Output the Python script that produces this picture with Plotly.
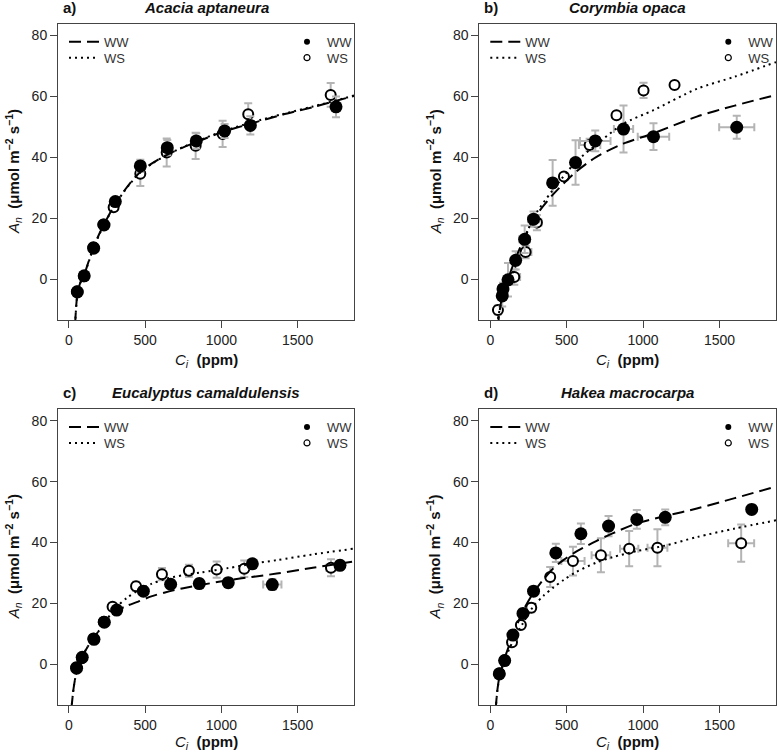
import plotly.graph_objects as go

# ---------------- data ----------------
# Panel a) Acacia aptaneura
a_ww_ci = [55, 100, 162, 230, 304, 468, 645, 835, 1021, 1190, 1752]
a_ww_an = [-4.2, 1.1, 10.2, 17.8, 25.5, 37.2, 43.2, 45.4, 48.7, 50.5, 56.6]
a_ww_an_se = [0.8, 0.8, 1.0, 1.0, 1.2, 2.0, 2.5, 2.5, 2.3, 3.0, 3.4]
a_ww_ci_se = [5, 5, 6, 8, 8, 10, 10, 12, 12, 15, 15]
a_ws_ci = [52, 98, 160, 225, 293, 468, 641, 831, 1008, 1176, 1717]
a_ws_an = [-4.0, 1.0, 10.5, 18.0, 23.6, 34.6, 41.6, 43.8, 47.7, 54.2, 60.5]
a_ws_an_se = [0.8, 0.8, 1.0, 1.0, 1.2, 4.0, 4.6, 4.3, 4.3, 3.6, 3.9]
a_ws_ci_se = [5, 5, 6, 8, 8, 10, 10, 12, 12, 15, 15]
a_fit_ci = [40, 55, 75, 100, 130, 160, 200, 230, 300, 400, 470, 550, 650, 750, 850, 1000, 1200, 1400, 1600, 1870]
a_fit_ww = [-15, -5, -1, 1.5, 6, 10.3, 15, 18, 24.5, 31.5, 35.3, 38.2, 41, 43.3, 45.3, 48.2, 51.2, 54, 56.5, 60.2]
a_fit_ws = [-15, -5.2, -1.2, 1.3, 5.8, 10, 14.8, 17.8, 24.3, 31.3, 35.1, 38.1, 41, 43.4, 45.5, 48.4, 51.5, 54.2, 56.7, 60.3]

# Panel b) Corymbia opaca
b_ww_ci = [78, 83, 116, 166, 225, 283, 408, 558, 687, 872, 1068, 1613]
b_ww_an = [-5.5, -3.2, -0.2, 6.2, 13.1, 19.7, 31.6, 38.3, 45.4, 49.3, 46.8, 49.9]
b_ww_an_se = [3.5, 2.0, 5.5, 3.0, 4.5, 2.5, 7.5, 7.3, 3.4, 7.7, 4.4, 3.8]
b_ww_ci_se = [20, 20, 25, 25, 35, 35, 20, 30, 100, 63, 103, 115]
b_ws_ci = [50, 157, 231, 305, 482, 650, 826, 1003, 1206]
b_ws_an = [-10.1, 0.7, 8.9, 18.6, 33.7, 44.1, 53.8, 62.0, 63.8]
b_ws_an_se = [1.5, 2.5, 2.0, 2.5, 1.0, 2.0, 1.0, 2.5, 1.0]
b_ws_ci_se = [15, 38, 38, 30, 10, 70, 10, 10, 10]
b_fit_ci = [50, 55, 78, 115, 166, 225, 280, 405, 560, 690, 870, 1068, 1352, 1600, 1870]
b_fit_ww = [-16, -13, -5.5, 0, 6.8, 13.8, 19.5, 27.5, 35.2, 40, 44.5, 47.9, 53.4, 57, 60.5]
b_fit_ws = [-13, -11.5, -6.5, -1.5, 4.5, 13, 20, 29, 38.5, 44, 51, 55.5, 62.5, 66.5, 71.3]

# Panel c) Eucalyptus camaldulensis
c_ww_ci = [50, 87, 164, 232, 313, 488, 667, 855, 1045, 1203, 1334, 1778]
c_ww_an = [-1.3, 2.3, 8.2, 13.8, 17.8, 24.0, 26.3, 26.5, 26.8, 33.0, 26.2, 32.5]
c_ww_an_se = [1.0, 1.0, 1.0, 1.0, 1.2, 1.2, 1.5, 1.5, 1.5, 1.5, 1.8, 1.5]
c_ww_ci_se = [5, 5, 8, 10, 10, 12, 12, 15, 15, 15, 60, 20]
c_ws_ci = [48, 85, 160, 228, 286, 440, 610, 787, 969, 1150, 1719]
c_ws_an = [-1.0, 2.0, 8.5, 14.0, 18.9, 25.6, 29.6, 30.7, 31.1, 31.4, 31.7]
c_ws_an_se = [1.0, 1.0, 1.0, 1.0, 1.0, 1.5, 2.0, 2.0, 2.7, 2.7, 2.8]
c_ws_ci_se = [5, 5, 8, 10, 10, 20, 20, 15, 15, 15, 30]
c_fit_ci = [15, 30, 45, 60, 87, 120, 164, 232, 302, 380, 455, 540, 630, 750, 870, 1045, 1200, 1363, 1600, 1870]
c_fit_ww = [-15, -8, -3.5, -0.5, 2.5, 5.5, 8.7, 13.5, 17.2, 19.2, 20.6, 22.3, 23.6, 25, 26.1, 27.6, 28.7, 29.8, 31.7, 33.8]
c_fit_ws = [-15, -8, -3.5, -0.5, 2.5, 5.5, 8.7, 13.5, 18.3, 21.8, 24.3, 26.4, 28.0, 29.3, 30.2, 31.6, 33.0, 34.2, 36.1, 38.0]

# Panel d) Hakea macrocarpa
d_ww_ci = [59, 94, 148, 214, 283, 429, 593, 774, 959, 1145, 1711]
d_ww_an = [-3.2, 1.2, 9.6, 16.7, 24.0, 36.6, 42.9, 45.4, 47.6, 48.3, 50.9]
d_ww_an_se = [1.0, 1.0, 1.5, 1.5, 1.5, 3.0, 3.4, 3.3, 3.1, 2.6, 1.5]
d_ww_ci_se = [5, 8, 10, 10, 12, 15, 15, 15, 20, 20, 20]
d_ws_ci = [59, 94, 142, 200, 268, 392, 541, 724, 909, 1094, 1642]
d_ws_an = [-3.0, 1.3, 7.2, 12.9, 18.6, 28.7, 33.9, 35.8, 38.0, 38.3, 39.8]
d_ws_an_se = [1.0, 1.0, 1.0, 1.0, 1.5, 3.3, 4.7, 5.6, 5.8, 6.1, 6.1]
d_ws_ci_se = [5, 8, 8, 10, 12, 25, 76, 61, 60, 65, 85]
d_fit_ci = [35, 45, 60, 94, 148, 214, 279, 350, 410, 480, 562, 693, 800, 959, 1145, 1352, 1600, 1870]
d_fit_ww = [-15, -9, -4, 2, 9.5, 17.5, 23.2, 28, 31.4, 34.3, 37, 40.5, 43, 46.3, 48.7, 51.2, 54.6, 58.4]
d_fit_ws = [-15, -9.2, -4.4, 1.3, 7.6, 13.5, 18.8, 22.6, 25.1, 27.7, 30.3, 33.4, 35.2, 37.2, 39.0, 41.8, 44.6, 47.3]

panel_labels = ["a)", "b)", "c)", "d)"]
species = ["Acacia aptaneura", "Corymbia opaca", "Eucalyptus camaldulensis", "Hakea macrocarpa"]
x_ticks = [0, 500, 1000, 1500]
y_ticks = [0, 20, 40, 60, 80]
x_range = [-72, 1870]
y_range = [-13.4, 83.8]

# ---------------- layout geometry ----------------
W, H = 777, 754
FONT = "Liberation Sans, Arial, sans-serif"
col_px = [(58, 354), (479.3, 776)]
row_px = [(24, 320), (409.3, 705)]
xtitle_gap = [40, 37]

def px(x):
    return x / W

def py(y):
    return 1 - y / H

panels = [
    dict(ww=(a_ww_ci, a_ww_an, a_ww_ci_se, a_ww_an_se), ws=(a_ws_ci, a_ws_an, a_ws_ci_se, a_ws_an_se),
         fit=(a_fit_ci, a_fit_ww, a_fit_ws), col=0, row=0),
    dict(ww=(b_ww_ci, b_ww_an, b_ww_ci_se, b_ww_an_se), ws=(b_ws_ci, b_ws_an, b_ws_ci_se, b_ws_an_se),
         fit=(b_fit_ci, b_fit_ww, b_fit_ws), col=1, row=0),
    dict(ww=(c_ww_ci, c_ww_an, c_ww_ci_se, c_ww_an_se), ws=(c_ws_ci, c_ws_an, c_ws_ci_se, c_ws_an_se),
         fit=(c_fit_ci, c_fit_ww, c_fit_ws), col=0, row=1),
    dict(ww=(d_ww_ci, d_ww_an, d_ww_ci_se, d_ww_an_se), ws=(d_ws_ci, d_ws_an, d_ws_ci_se, d_ws_an_se),
         fit=(d_fit_ci, d_fit_ww, d_fit_ws), col=1, row=1),
]

ERR = "#b4b4b4"
fig = go.Figure()
layout = dict(
    width=W, height=H, margin=dict(l=0, r=0, t=0, b=0, autoexpand=False),
    paper_bgcolor="white", plot_bgcolor="white",
    font=dict(family=FONT, color="#222"), showlegend=True,
    annotations=[],
)

legend_count = 0
for i, p in enumerate(panels):
    n = "" if i == 0 else str(i + 1)
    xa, ya = "x" + n, "y" + n
    x0, x1 = col_px[p["col"]]
    y0, y1 = row_px[p["row"]]
    axis_common = dict(showline=True, mirror=True, linecolor="#444", linewidth=1,
                       ticks="outside", ticklen=7, tickwidth=1, tickcolor="#444",
                       showgrid=False, zeroline=False, automargin=False,
                       tickfont=dict(size=14, family=FONT, color="#222"))
    layout["xaxis" + n] = dict(domain=[px(x0), px(x1)], range=x_range, tickvals=x_ticks,
                               anchor=ya, **axis_common)
    layout["yaxis" + n] = dict(domain=[py(y1), py(y0)], range=y_range, tickvals=y_ticks,
                               anchor=xa, **axis_common)

    # open circles (WS)
    ci, an, cise, anse = p["ws"]
    fig.add_trace(go.Scatter(x=ci, y=an, mode="markers", xaxis=xa, yaxis=ya, showlegend=False,
                             marker=dict(symbol="circle", size=10, color="white",
                                         line=dict(color="black", width=2)),
                             error_y=dict(type="data", array=anse, color=ERR, thickness=2, width=4),
                             error_x=dict(type="data", array=cise, color=ERR, thickness=2, width=4)))
    # filled circles (WW)
    ci, an, cise, anse = p["ww"]
    fig.add_trace(go.Scatter(x=ci, y=an, mode="markers", xaxis=xa, yaxis=ya, showlegend=False,
                             marker=dict(symbol="circle", size=13, color="black",
                                         line=dict(color="black", width=0)),
                             error_y=dict(type="data", array=anse, color=ERR, thickness=2, width=4),
                             error_x=dict(type="data", array=cise, color=ERR, thickness=2, width=4)))
    # fitted curves
    fci, fww, fws = p["fit"]
    fig.add_trace(go.Scatter(x=fci, y=fww, mode="lines", xaxis=xa, yaxis=ya, showlegend=False,
                             line=dict(color="black", width=2, dash="12px,6px", shape="spline", smoothing=0.8)))
    fig.add_trace(go.Scatter(x=fci, y=fws, mode="lines", xaxis=xa, yaxis=ya, showlegend=False,
                             line=dict(color="black", width=2, dash="2px,4px", shape="spline", smoothing=0.8)))

    # legends: one legend per entry for exact row placement
    entries = [
        ("WW", dict(mode="lines", line=dict(color="black", width=2, dash="12px,6px")), x0 + 6, y0 + 17.7),
        ("WS", dict(mode="lines", line=dict(color="black", width=2, dash="2px,4px")), x0 + 6, y0 + 33.7),
        ("WW", dict(mode="markers", marker=dict(symbol="circle", size=6, color="black")), x0 + 229, y0 + 17.7),
        ("WS", dict(mode="markers", marker=dict(symbol="circle-open", size=6, color="black",
                                                line=dict(width=1.2))), x0 + 229, y0 + 33.7),
    ]
    for name, style, lx, ly in entries:
        legend_count += 1
        lname = "legend" if legend_count == 1 else "legend" + str(legend_count)
        fig.add_trace(go.Scatter(x=[None], y=[None], name=name, legend=lname, showlegend=True,
                                 xaxis=xa, yaxis=ya, **style))
        layout[lname] = dict(x=px(lx), y=py(ly), xanchor="left", yanchor="middle",
                             bgcolor="rgba(0,0,0,0)", borderwidth=0,
                             font=dict(size=13, family=FONT, color="#333"))

    xc = (x0 + x1) / 2
    yc = (y0 + y1) / 2
    ann = layout["annotations"]
    # panel letter
    ann.append(dict(text="<b>" + panel_labels[i] + "</b>", x=px(x0 + 3), y=py(y0 - 17), xref="paper", yref="paper",
                    xanchor="left", yanchor="middle", showarrow=False,
                    font=dict(size=15, family=FONT, color="#111")))
    # species title
    ann.append(dict(text="<b><i>" + species[i] + "</i></b>", x=px(xc), y=py(y0 - 17), xref="paper", yref="paper",
                    xanchor="center", yanchor="middle", showarrow=False,
                    font=dict(size=15, family=FONT, color="#111")))
    # axis titles
    ann.append(dict(text="<i>C</i><sub><i>i</i></sub>  <b>(ppm)</b>", x=px(xc), y=py(y1 + xtitle_gap[p["row"]]),
                    xref="paper", yref="paper", xanchor="center", yanchor="middle", showarrow=False,
                    font=dict(size=15, family=FONT, color="#111")))
    ann.append(dict(text="<i>A</i><sub><i>n</i></sub>  <b>(μmol m<sup>−2</sup> s<sup>−1</sup>)</b>",
                    x=px(x0 - 45), y=py(yc), xref="paper", yref="paper", textangle=-90,
                    xanchor="center", yanchor="middle", showarrow=False,
                    font=dict(size=15, family=FONT, color="#111")))

fig.update_layout(**layout)
fig.write_html("out.html", config={"displayModeBar": False},
               post_script="document.body.style.margin='0';document.body.style.padding='0';"
                           "document.body.style.overflow='hidden';")
